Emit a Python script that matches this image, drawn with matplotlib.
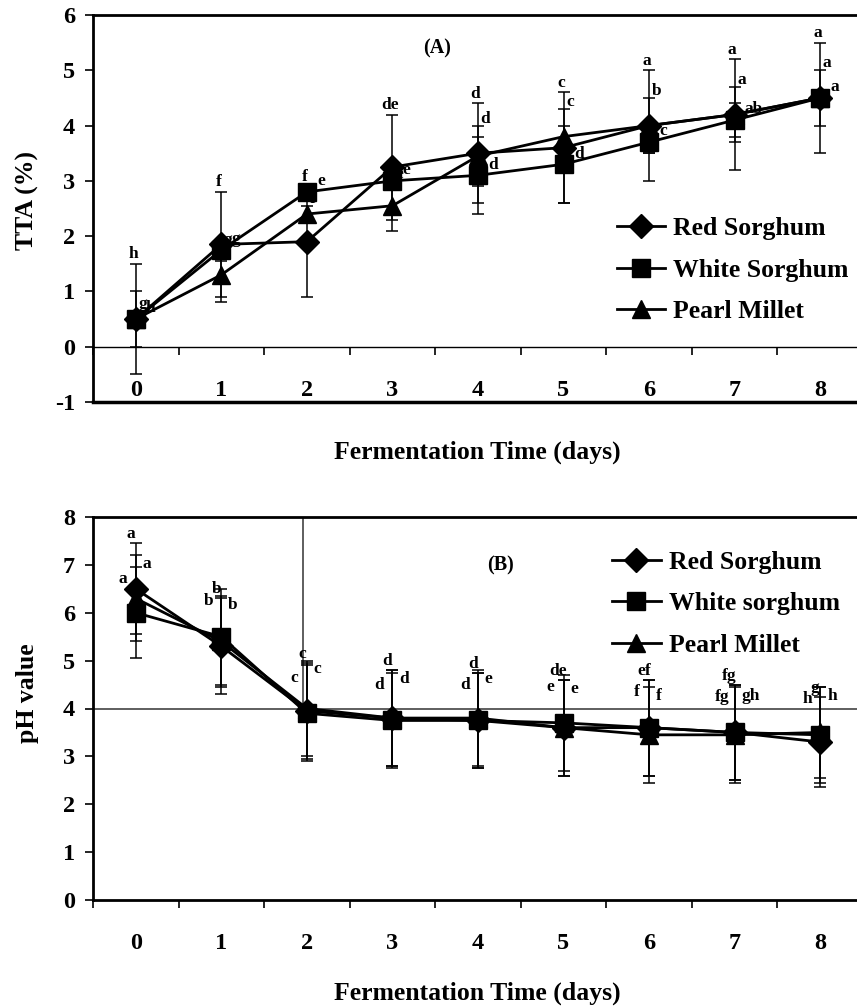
import matplotlib.pyplot as plt
import numpy as np

plt.rcParams['font.family'] = ['Liberation Serif', 'DejaVu Serif']
plt.rcParams['font.weight'] = 'bold'
plt.rcParams['axes.unicode_minus'] = False

days = np.arange(9)
series_names_a = ['Red Sorghum', 'White Sorghum', 'Pearl Millet']
series_names_b = ['Red Sorghum', 'White sorghum', 'Pearl Millet']

# (A) titratable acidity, %
tta_red = [0.5, 1.85, 1.9, 3.25, 3.5, 3.6, 4.0, 4.2, 4.5]
tta_red_err = [1.0, 0.95, 1.0, 0.95, 0.9, 1.0, 1.0, 1.0, 1.0]
tta_white = [0.5, 1.75, 2.8, 3.0, 3.1, 3.3, 3.7, 4.1, 4.5]
tta_white_err = [0.5, 0.2, 0.1, 0.15, 0.7, 0.7, 0.2, 0.3, 0.1]
tta_pearl = [0.5, 1.3, 2.4, 2.55, 3.45, 3.8, 4.0, 4.2, 4.5]
tta_pearl_err = [0.15, 0.5, 0.15, 0.45, 0.55, 0.5, 0.5, 0.5, 0.5]
tta_red_let = ['h', 'f', 'f', 'de', 'd', 'c', 'a', 'a', 'a']
tta_white_let = ['h', 'g', 'e', 'e', 'd', 'd', 'c', 'ab', 'a']
tta_pearl_let = ['g', 'g', 'f', 'e', 'd', 'c', 'b', 'a', 'a']

# (B) pH
ph_red = [6.5, 5.3, 3.95, 3.8, 3.75, 3.6, 3.6, 3.5, 3.3]
ph_red_err = [0.95, 1.0, 1.0, 1.0, 1.0, 1.0, 1.0, 1.0, 0.95]
ph_white = [6.0, 5.5, 3.9, 3.75, 3.75, 3.7, 3.6, 3.5, 3.45]
ph_white_err = [0.95, 1.0, 1.0, 1.0, 1.0, 1.0, 1.0, 1.0, 1.0]
ph_pearl = [6.3, 5.4, 4.0, 3.8, 3.8, 3.6, 3.45, 3.45, 3.5]
ph_pearl_err = [0.9, 0.95, 1.0, 1.0, 1.0, 1.0, 1.0, 1.0, 0.95]
ph_red_let = ['a', 'b', 'c', 'd', 'd', 'de', 'ef', 'fg', 'g']
ph_white_let = ['a', 'b', 'c', 'd', 'd', 'e', 'f', 'fg', 'h']
ph_pearl_let = ['a', 'b', 'c', 'd', 'e', 'e', 'f', 'gh', 'h']

markers = [('D', 12), ('s', 13), ('^', 13)]


def draw_panel(ax, vals, errs, lets, names, let_pos):
    handles = []
    for i, (v, e, m) in enumerate(zip(vals, errs, markers)):
        ax.errorbar(days, v, yerr=e, fmt='none', ecolor='black',
                    elinewidth=1.1, capsize=4, capthick=1.1, zorder=2)
        h, = ax.plot(days, v, color='black', lw=2, marker=m[0], ms=m[1],
                     mfc='black', mec='black', label=names[i], zorder=3)
        handles.append(h)
    # significance letters, next to the error-bar top or to the point itself
    for (v, e, l), (dx, dy, ha, at_cap) in zip(zip(vals, errs, lets), let_pos):
        for d, vv, ee, ll in zip(days, v, e, l):
            base = vv + ee if at_cap else vv
            ax.text(d + dx, base + dy, ll, ha=ha, va='bottom',
                    fontsize=12.5, fontweight='bold')
    ax.set_xlim(-0.5, 8.5)
    ax.set_xticks(days)
    ax.set_xticklabels([str(d) for d in days])
    ax.set_xticks(np.arange(-0.5, 9, 1), minor=True)
    ax.tick_params(axis='x', which='major', length=0, pad=24, labelsize=17.5)
    ax.tick_params(axis='x', which='minor', length=6, width=1.2, direction='out')
    ax.tick_params(axis='y', which='major', length=6, width=1.2, pad=7,
                   labelsize=17.5, direction='out')
    for s in ax.spines.values():
        s.set_linewidth(2)
    ax.spines['right'].set_visible(False)
    return handles


fig = plt.figure(figsize=(8.57, 10.08), dpi=100)
axA = fig.add_axes([93 / 857, 1 - 402 / 1008, 770 / 857, 387 / 1008])
axB = fig.add_axes([93 / 857, 1 - 900 / 1008, 770 / 857, 383 / 1008])

# ---- panel A
hA = draw_panel(axA, [tta_red, tta_white, tta_pearl],
                [tta_red_err, tta_white_err, tta_pearl_err],
                [tta_red_let, tta_white_let, tta_pearl_let], series_names_a,
                [(-0.03, 0.03, 'center', True), (0.12, 0.05, 'left', False),
                 (0.03, -0.02, 'left', True)])
axA.set_ylim(-1, 6)
axA.set_yticks(range(-1, 7))
axA.spines['bottom'].set_position(('data', 0))
axA.spines['bottom'].set_linewidth(1)
axA.axhline(-1, color='black', lw=2.5, clip_on=False, zorder=5)
axA.text(3.52, 5.39, '(A)', ha='center', va='center', fontsize=14.5,
         fontweight='bold')
axA.set_ylabel('TTA (%)', fontsize=18.5, fontweight='bold')
axA.yaxis.set_label_coords(-0.0857, 0.52)
axA.yaxis.label.set_va('center')
axA.set_xlabel('Fermentation Time (days)', fontsize=18.5, fontweight='bold')
axA.xaxis.set_label_coords(0.4987, -0.129)
axA.xaxis.label.set_va('center')
axA.legend(handles=hA, loc='upper left', bbox_to_anchor=(0.68, 0.477),
           frameon=False, fontsize=18.5, handlelength=1.9, handletextpad=0.3,
           labelspacing=0.72, borderpad=0, borderaxespad=0)

# ---- panel B
hB = draw_panel(axB, [ph_red, ph_white, ph_pearl],
                [ph_red_err, ph_white_err, ph_pearl_err],
                [ph_red_let, ph_white_let, ph_pearl_let], series_names_b,
                [(-0.06, 0.02, 'center', True), (-0.15, -0.42, 'center', True),
                 (0.08, -0.35, 'left', True)])
axB.set_ylim(0, 8)
axB.set_yticks(range(0, 9))
axB.axhline(4, color='#333333', lw=1.1, zorder=1)
axB.axvline(1.95, ymin=0.5, ymax=1, color='#333333', lw=1.1, zorder=1)
axB.text(4.26, 6.99, '(B)', ha='center', va='center', fontsize=14.5,
         fontweight='bold')
axB.set_ylabel('pH value', fontsize=18.5, fontweight='bold')
axB.yaxis.set_label_coords(-0.0857, 0.54)
axB.yaxis.label.set_va('center')
axB.set_xlabel('Fermentation Time (days)', fontsize=18.5, fontweight='bold')
axB.xaxis.set_label_coords(0.4987, -0.243)
axB.xaxis.label.set_va('center')
axB.legend(handles=hB, loc='upper left', bbox_to_anchor=(0.674, 0.912),
           frameon=False, fontsize=18.5, handlelength=1.9, handletextpad=0.3,
           labelspacing=0.72, borderpad=0, borderaxespad=0)

fig.savefig('out.png', dpi=100)
